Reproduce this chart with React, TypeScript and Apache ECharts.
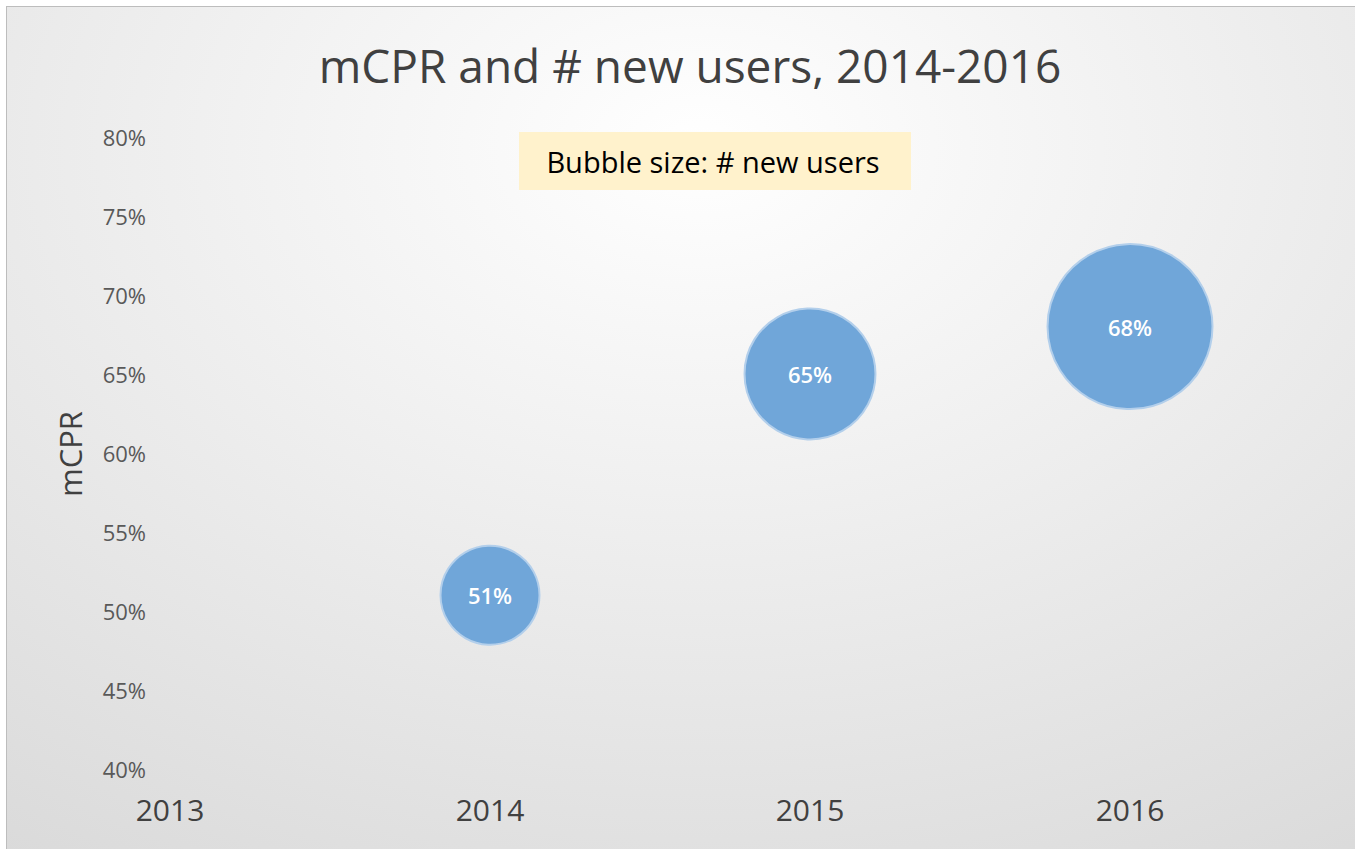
import React, { useEffect, useRef } from "react";
import * as echarts from "echarts";

// ---- data ----
const years = [2014, 2015, 2016];
const mcprValues = [51, 65, 68]; // %
const newUsers = [360000, 630000, 1000000]; // bubble size (estimated, relative)
const xTickMin = 2013;
const xTickMax = 2017;
const yTickMin = 40;
const yTickMax = 80;
const yTickStep = 5;

const titleText = "mCPR and # new users, 2014-2016";
const noteText = "Bubble size: # new users";
const yAxisTitle = "mCPR";

const FONT = "'Open Sans', 'Noto Sans', sans-serif";
const MAX_BUBBLE = 165;

export default function App() {
  const ref = useRef<HTMLDivElement>(null);

  useEffect(() => {
    if (!ref.current) return;
    const chart = echarts.init(ref.current, undefined, { renderer: "svg" });
    const maxUsers = Math.max(...newUsers);
    const data = years.map((y, i) => [y, mcprValues[i], newUsers[i]]);

    chart.setOption({
      animation: false,
      backgroundColor: "transparent",
      grid: {
        left: 163,
        right: 17,
        top: 130,
        bottom: 98,
        containLabel: false,
        outerBoundsMode: "none",
      },
      xAxis: {
        type: "value",
        min: xTickMin,
        max: xTickMax,
        interval: 1,
        axisLine: { show: false },
        axisTick: { show: false },
        splitLine: { show: false },
        axisLabel: {
          color: "#404040",
          fontSize: 30,
          fontFamily: FONT,
          margin: 25,
          showMaxLabel: false,
          formatter: (v: number) => String(v),
        },
      },
      yAxis: {
        type: "value",
        min: yTickMin,
        max: yTickMax,
        interval: yTickStep,
        axisLine: { show: false },
        axisTick: { show: false },
        splitLine: { show: false },
        axisLabel: {
          color: "#595959",
          fontSize: 22,
          fontFamily: FONT,
          margin: 24,
          formatter: (v: number) => v + "%",
        },
      },
      graphic: [
        {
          type: "text",
          x: 683,
          y: 58,
          style: {
            text: titleText,
            fill: "#404040",
            font: `46px ${FONT}`,
            align: "center",
            verticalAlign: "middle",
          },
        },
        {
          type: "rect",
          shape: { x: 512, y: 125, width: 392, height: 58 },
          style: { fill: "#fff2cc" },
        },
        {
          type: "text",
          x: 706,
          y: 154,
          style: {
            text: noteText,
            fill: "#000000",
            font: `29px ${FONT}`,
            align: "center",
            verticalAlign: "middle",
          },
        },
        {
          type: "text",
          x: 63,
          y: 447,
          rotation: Math.PI / 2,
          style: {
            text: yAxisTitle,
            fill: "#404040",
            font: `31px ${FONT}`,
            align: "center",
            verticalAlign: "middle",
          },
        },
      ],
      series: [
        {
          type: "scatter",
          data,
          symbolSize: (d: number[]) => MAX_BUBBLE * Math.sqrt(d[2] / maxUsers),
          itemStyle: {
            color: "#70a6d9",
            borderColor: "#b3cfeb",
            borderWidth: 2,
            opacity: 1,
          },
          label: {
            show: true,
            position: "inside",
            color: "#ffffff",
            fontSize: 22,
            fontWeight: 600,
            fontFamily: FONT,
            formatter: (p: any) => p.value[1] + "%",
          },
          emphasis: { disabled: true },
        },
      ],
    });

    return () => chart.dispose();
  }, []);

  return (
    <div
      style={{
        position: "fixed",
        left: 0,
        top: 0,
        width: "100vw",
        height: "100vh",
        overflow: "hidden",
        background: "#ffffff",
      }}
    >
      <div
        ref={ref}
        style={{
          position: "absolute",
          left: 6,
          top: 6,
          width: 1460,
          height: 860,
          border: "1px solid #bdbdbd",
          background:
            "radial-gradient(ellipse 1300px 900px at 693px 140px, #ffffff 0%, #d8d8d8 100%)",
        }}
      />
    </div>
  );
}
